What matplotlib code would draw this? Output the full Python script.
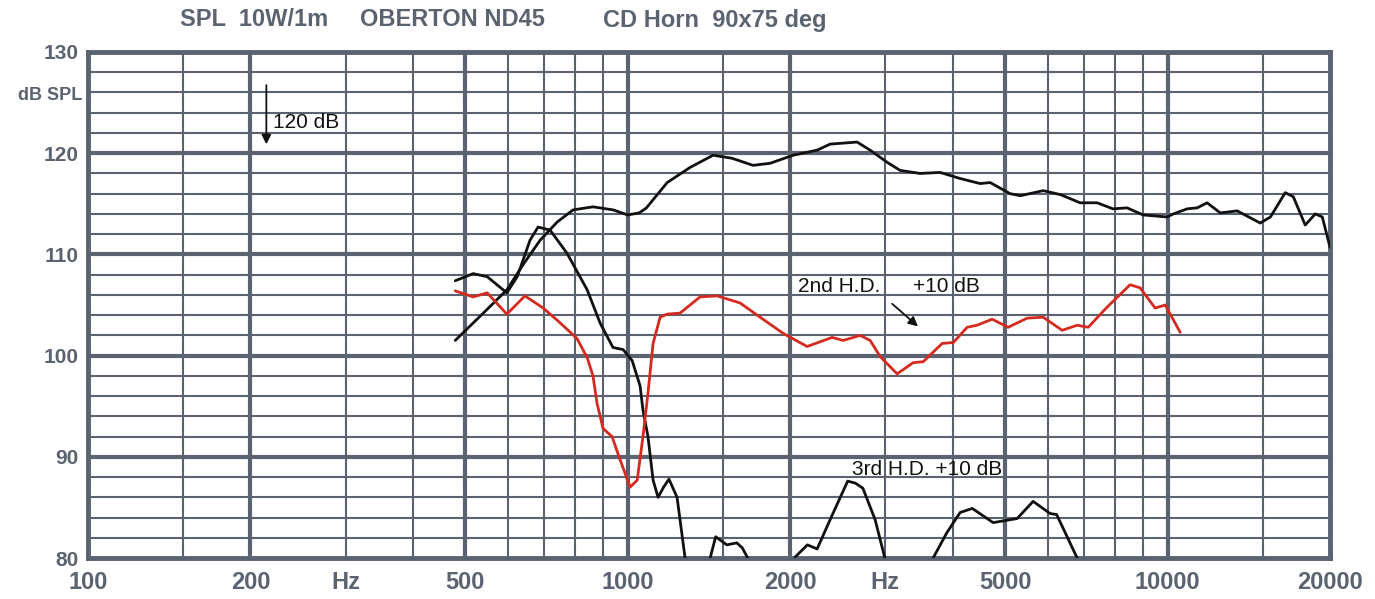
import numpy as np
import matplotlib
matplotlib.use('Agg')
import matplotlib.pyplot as plt
from matplotlib.ticker import NullLocator

# 主曲线 SPL 10W/1m
spl_f = [479, 540, 597, 640, 688, 740, 792, 862, 939, 1000, 1050, 1083, 1183, 1305, 1439,
         1560, 1706, 1834, 2025, 2243, 2371, 2660, 2812, 3024, 3196, 3480, 3791, 4128,
         4496, 4692, 5110, 5337, 5884, 6340, 6887, 7407, 7925, 8414, 9010, 9978, 10250,
         10870, 11350, 11840, 12520, 13460, 14850, 15510, 16520, 17100, 17990, 18780,
         19350, 20000]
spl_db = [101.5, 104.2, 106.5, 109.0, 111.4, 113.2, 114.4, 114.7, 114.4, 113.9, 114.1,
          114.6, 117.1, 118.6, 119.8, 119.5, 118.8, 119.0, 119.8, 120.3, 120.9, 121.1,
          120.3, 119.1, 118.3, 118.0, 118.1, 117.5, 117.0, 117.1, 116.0, 115.8, 116.3,
          115.9, 115.1, 115.1, 114.5, 114.6, 113.9, 113.7, 114.0, 114.5, 114.6, 115.1,
          114.1, 114.3, 113.1, 113.7, 116.1, 115.7, 112.9, 114.0, 113.7, 110.7]

# 二次谐波 +10 dB（红色）
hd2_f = [479, 517, 549, 597, 645, 697, 740, 805, 841, 862, 877, 900, 935, 968, 1010, 1041,
         1067, 1090, 1114, 1148, 1183, 1250, 1361, 1464, 1615, 1758, 1940, 2149, 2391,
         2506, 2695, 2812, 2935, 3155, 3378, 3527, 3823, 4011, 4253, 4437, 4732, 5066,
         5494, 5884, 6378, 6801, 7130, 7730, 8524, 8894, 9485, 9900, 10555]
hd2_db = [106.4, 105.8, 106.2, 104.1, 105.9, 104.7, 103.5, 101.7, 99.8, 98.0, 95.3, 92.8,
          92.0, 89.7, 87.0, 87.7, 92.0, 96.3, 101.2, 103.8, 104.1, 104.2, 105.8, 105.9,
          105.2, 103.8, 102.2, 100.9, 101.8, 101.5, 102.0, 101.5, 99.9, 98.2, 99.3, 99.4,
          101.2, 101.3, 102.8, 103.0, 103.6, 102.8, 103.7, 103.8, 102.5, 103.0, 102.8,
          104.8, 107.0, 106.7, 104.7, 105.0, 102.3]

# 三次谐波 +10 dB（黑色，nan 为断开）
nan = np.nan
hd3_f = [479, 517, 549, 597, 624, 659, 682, 718, 772, 841, 889, 939, 980, 1019, 1054,
         1067, 1090, 1114, 1138, 1165, 1192, 1234, 1277, nan,
         1421, 1455, 1526, 1592, 1630, 1668, nan,
         2042, 2152, 2243, 2371, 2555, 2640, 2726, 2872, 2994, nan,
         3679, 3900, 4128, 4348, 4752, 5264, 5636, 6058, 6230, 6801]
hd3_db = [107.4, 108.1, 107.8, 106.2, 107.8, 111.4, 112.7, 112.4, 110.1, 106.5, 103.2,
          100.8, 100.6, 99.5, 97.0, 94.6, 92.0, 87.7, 86.0, 87.0, 87.8, 86.0, 80.0, nan,
          80.0, 82.1, 81.3, 81.5, 81.0, 80.0, nan,
          80.1, 81.3, 80.9, 83.8, 87.6, 87.4, 86.9, 83.8, 80.0, nan,
          80.0, 82.5, 84.5, 84.9, 83.5, 83.9, 85.6, 84.4, 84.3, 80.0]

x_ticks = [100, 200, 300, 500, 1000, 2000, 3000, 5000, 10000, 20000]
x_labels = ['100', '200', 'Hz', '500', '1000', '2000', 'Hz', '5000', '10000', '20000']
y_ticks = [80, 90, 100, 110, 120, 130]

thick_x = [200, 500, 1000, 2000, 5000, 10000]
thin_x = [150, 300, 400, 600, 700, 800, 900, 1500, 3000, 4000, 6000, 7000, 8000, 9000, 15000]
thick_y = [90, 100, 110, 120]
thin_y = [y for y in range(82, 130, 2) if y % 10 != 0]

grey = '#5b6371'
plt.rcParams['font.family'] = ['Liberation Sans', 'DejaVu Sans']

fig = plt.figure(figsize=(13.75, 5.99), dpi=100)
ax = fig.add_axes([0.064, 0.0684, 0.9033, 0.8448])
ax.set_xscale('log')
ax.set_xlim(100, 20000)
ax.set_ylim(80, 130)

# 网格
for f in thin_x:
    ax.axvline(f, color=grey, lw=1.5, zorder=1)
for y in thin_y:
    ax.axhline(y, color=grey, lw=1.5, zorder=1)
for f in thick_x:
    ax.axvline(f, color=grey, lw=3.0, zorder=1.5)
for y in thick_y:
    ax.axhline(y, color=grey, lw=3.0, zorder=1.5)
for s in ax.spines.values():
    s.set_color(grey)
    s.set_linewidth(3.5)

# 曲线
kw = dict(lw=2.0, zorder=3, solid_joinstyle='round', solid_capstyle='round')
ax.plot(spl_f, spl_db, color='#111111', **kw)
ax.plot(hd3_f, hd3_db, color='#111111', **kw)
ax.plot(hd2_f, hd2_db, color='#d42a20', **kw)

# 刻度
ax.xaxis.set_minor_locator(NullLocator())
ax.yaxis.set_minor_locator(NullLocator())
ax.set_xticks(x_ticks)
ax.set_xticklabels(x_labels)
ax.set_yticks(y_ticks)
ax.set_yticklabels([str(v) for v in y_ticks])
ax.tick_params(axis='x', length=0, pad=9, labelsize=17, labelcolor=grey)
ax.tick_params(axis='y', length=0, pad=7, labelsize=15, labelcolor=grey)
for lab in ax.get_xticklabels() + ax.get_yticklabels():
    lab.set_fontweight('bold')

fig.text(82 / 1375, 1 - 96 / 599, 'dB SPL', ha='right', va='center', fontsize=13,
         fontweight='bold', color=grey)

# 标题
fig.text(180 / 1375, 1 - 20 / 599, 'SPL  10W/1m', ha='left', va='center', fontsize=17,
         fontweight='bold', color=grey)
fig.text(360 / 1375, 1 - 20 / 599, 'OBERTON ND45', ha='left', va='center', fontsize=17,
         fontweight='bold', color=grey)
fig.text(603 / 1375, 1 - 20 / 599, 'CD Horn  90x75 deg', ha='left', va='center', fontsize=17,
         fontweight='bold', color=grey)

# 注释
ax.annotate('', xy=(214, 120.6), xytext=(214, 127.0),
            arrowprops=dict(arrowstyle='-|>', color='#111111', lw=1.3, mutation_scale=14),
            zorder=4)
ax.text(220, 123.0, '120 dB', fontsize=15, color='#111111', va='center', zorder=4)
ax.text(2068, 106.8, '2nd H.D.', fontsize=15, color='#111111', va='center', zorder=4)
ax.text(3378, 106.8, '+10 dB', fontsize=15, color='#111111', va='center', zorder=4)
ax.annotate('', xy=(3480, 102.7), xytext=(3062, 105.3),
            arrowprops=dict(arrowstyle='-|>', color='#111111', lw=1.3, mutation_scale=14),
            zorder=4)
ax.text(2604, 88.7, '3rd H.D. +10 dB', fontsize=15, color='#111111', va='center', zorder=4)

fig.savefig('out.png', dpi=100)
